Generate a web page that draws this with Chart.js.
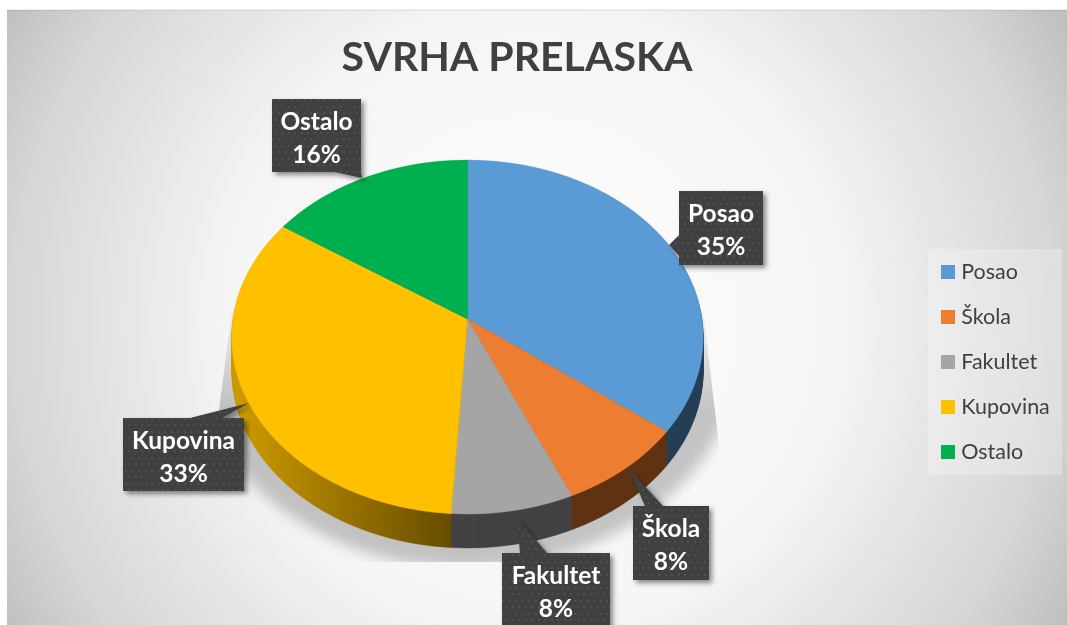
<!DOCTYPE html>
<html>
<head>
<meta charset="utf-8">
<title>Svrha prelaska</title>
<script src="https://cdn.jsdelivr.net/npm/chart.js@4"></script>
<style>
  html, body { margin: 0; background: #fff; }
  canvas { display: block; }
</style>
</head>
<body>
<canvas id="chart" width="1067" height="625"></canvas>
<script>
// Chart data
const chartTitle = 'SVRHA PRELASKA';
const categories = ['Posao', 'Škola', 'Fakultet', 'Kupovina', 'Ostalo'];
const seriesValues = [35.3, 8.1, 7.6, 33.4, 15.6];

const sliceColors = ['#5b9bd5', '#ed7d31', '#a5a5a5', '#ffc000', '#00b050'];

// Perspective of the pie face: apex on screen, height above and below it, half width
const pieView = { cx: 467.5, cy: 319, up: 159, down: 195, halfWidth: 234.5, depth: 34 };

// Callout boxes [left, top, right, bottom] and tail [tipX, tipY, baseX1, baseY1, baseX2, baseY2]
const calloutBoxes = [
    [679, 191, 763, 265],
    [633, 506, 709, 580],
    [502, 553, 610, 630],
    [123, 418, 244, 491],
    [272, 99, 361, 172]
];
const calloutTails = [
    [669, 245, 679, 235, 679, 256],
    [629, 469, 645, 506, 663, 506],
    [517, 518, 520, 553, 547, 553],
    [249, 403, 190, 418, 222, 418],
    [362, 178, 335, 172, 361, 172]
];

const FONT = 'Lato, "Open Sans", sans-serif';

function makeLayer() {
    const c = document.createElement('canvas');
    c.width = 1067;
    c.height = 625;
    return c;
}

// Draws the chart's own arcs row by row so the flat circle comes out as a pie seen in perspective
function drawProjectedArcs(g, chart) {
    const arcs = chart.getDatasetMeta(0).data;
    const R = arcs[0].outerRadius, ax = arcs[0].x, ay = arcs[0].y;
    const { cx, cy, up, down, halfWidth } = pieView;
    const k = (down - up) / (down + up);
    const a = down * (1 - k);
    const toV = (dy) => dy / (a + k * dy);
    for (let y = cy - up - 1; y < cy + down + 1; y++) {
        const v0 = toV(y - cy), v1 = toV(y + 1 - cy);
        const s = halfWidth / (1 - k * (v0 + v1) / 2) / R;
        const t = 1 / ((v1 - v0) * R);
        g.save();
        g.beginPath();
        g.rect(0, y, 1067, 1);
        g.clip();
        g.setTransform(s, 0, 0, t, cx - s * ax, y - t * (ay + v0 * R));
        arcs.forEach((arc) => arc.draw(g));
        g.restore();
    }
}

function dotPattern(ctx) {
    const tile = document.createElement('canvas');
    tile.width = 13;
    tile.height = 13;
    const g = tile.getContext('2d');
    g.fillStyle = '#404040';
    g.fillRect(0, 0, 13, 13);
    g.fillStyle = '#4f4f4f';
    [[2, 2], [8, 2], [5, 8], [11, 8]].forEach(([x, y]) => g.fillRect(x, y, 2, 2));
    return ctx.createPattern(tile, 'repeat');
}

function swatch(color) {
    const c = document.createElement('canvas');
    c.width = 14;
    c.height = 14;
    const g = c.getContext('2d');
    g.fillStyle = color;
    g.fillRect(0, 0, 14, 14);
    return c;
}

const backgroundPlugin = {
    id: 'background',
    beforeDraw(chart) {
        const ctx = chart.ctx;
        ctx.save();
        ctx.fillStyle = '#fff';
        ctx.fillRect(0, 0, 1067, 625);
        const bg = ctx.createRadialGradient(533, 320, 0, 533, 320, 612);
        bg.addColorStop(0, '#ffffff');
        bg.addColorStop(0.5, '#f5f5f5');
        bg.addColorStop(0.86, '#d5d5d5');
        bg.addColorStop(1, '#bfbfbf');
        ctx.fillStyle = bg;
        ctx.fillRect(7, 10, 1060, 615);
        ctx.fillStyle = 'rgba(0,0,0,0.06)';
        ctx.fillRect(7, 9, 1060, 2);
        ctx.fillStyle = 'rgba(255,255,255,0.25)';
        ctx.fillRect(928, 249, 134, 226);
        ctx.restore();
    }
};

const piePlugin = {
    id: 'perspectivePie',
    beforeDatasetsDraw(chart) {
        const ctx = chart.ctx;
        const face = makeLayer();
        drawProjectedArcs(face.getContext('2d'), chart);

        // side wall: the face stacked downwards, then darkened from left to right
        const wall = makeLayer();
        const w = wall.getContext('2d');
        for (let d = pieView.depth; d >= 1; d--) {
            w.drawImage(face, 0, d);
        }
        const shade = w.createLinearGradient(240, 0, 450, 0);
        shade.addColorStop(0, 'rgba(0,0,0,0.2)');
        shade.addColorStop(1, 'rgba(0,0,0,0.6)');
        w.globalCompositeOperation = 'source-atop';
        w.fillStyle = shade;
        w.fillRect(0, 0, 1067, 625);

        // soft shadow, cut off by a wedge and a bottom edge like in the original
        ctx.save();
        ctx.beginPath();
        ctx.moveTo(232, 310);
        ctx.lineTo(703, 310);
        ctx.lineTo(719, 445);
        ctx.lineTo(719, 562);
        ctx.lineTo(219, 562);
        ctx.lineTo(219, 410);
        ctx.closePath();
        ctx.clip();
        ctx.filter = 'blur(7px)';
        const fade = ctx.createLinearGradient(0, 310, 0, 410);
        fade.addColorStop(0, 'rgba(0,0,0,0.03)');
        fade.addColorStop(1, 'rgba(0,0,0,0.21)');
        ctx.fillStyle = fade;
        ctx.beginPath();
        ctx.ellipse(pieView.cx, pieView.cy + 31, 272, 218, 0, 0, Math.PI * 2);
        ctx.fill();
        ctx.restore();

        ctx.drawImage(wall, 0, 0);
        ctx.drawImage(face, 0, 0);
        return false;
    }
};

const calloutPlugin = {
    id: 'callouts',
    afterDraw(chart) {
        const ctx = chart.ctx;
        const pattern = dotPattern(ctx);
        categories.forEach((name, i) => {
            const [l, t, r, b] = calloutBoxes[i];
            const [tx, ty, x1, y1, x2, y2] = calloutTails[i];
            ctx.save();
            ctx.shadowColor = 'rgba(0,0,0,0.45)';
            ctx.shadowBlur = 5;
            ctx.shadowOffsetX = 3;
            ctx.shadowOffsetY = 3;
            ctx.fillStyle = pattern;
            ctx.beginPath();
            ctx.rect(l, t, r - l, b - t);
            ctx.moveTo(x1, y1);
            ctx.lineTo(tx, ty);
            ctx.lineTo(x2, y2);
            ctx.closePath();
            ctx.fill('nonzero');
            ctx.restore();

            ctx.fillStyle = '#fff';
            ctx.font = 'bold 24.5px ' + FONT;
            ctx.textAlign = 'center';
            ctx.textBaseline = 'middle';
            const mid = (l + r) / 2;
            ctx.fillText(name, mid, t + 23);
            ctx.fillText(Math.round(seriesValues[i]) + '%', mid, t + 56);
        });
    }
};

new Chart(document.getElementById('chart'), {
    type: 'pie',
    data: {
        labels: categories,
        datasets: [{
            data: seriesValues,
            backgroundColor: sliceColors,
            borderColor: sliceColors,
            borderWidth: 0.5
        }]
    },
    plugins: [backgroundPlugin, piePlugin, calloutPlugin, {
        id: 'placeBlocks',
        afterLayout(chart) {
            // title and legend sit where the original has them
            const title = chart.titleBlock;
            title.left = 7;
            title.right = 1027;
            title.top = 33;
            const legend = chart.legend;
            legend.left = 945.5 - 23.5;
            legend.top = 261.5 - 23.5;
            legend.right = 1067;
            legend.bottom = 500;
        }
    }],
    options: {
        responsive: false,
        animation: false,
        layout: { padding: { top: 90, bottom: 20, left: 20, right: 20 } },
        plugins: {
            tooltip: { enabled: false },
            title: {
                display: true,
                text: chartTitle,
                color: '#404040',
                padding: 0,
                font: { family: FONT, size: 41, weight: 'bold', lineHeight: 1.2 }
            },
            legend: {
                position: 'right',
                align: 'start',
                labels: {
                    color: '#404040',
                    font: { family: FONT, size: 21.5, lineHeight: 1 },
                    padding: 23.5,
                    boxWidth: 14,
                    boxHeight: 14,
                    usePointStyle: true,
                    pointStyleWidth: 5,
                    generateLabels(chart) {
                        return categories.map((name, i) => ({
                            text: name,
                            fontColor: '#404040',
                            fillStyle: sliceColors[i],
                            strokeStyle: sliceColors[i],
                            lineWidth: 0,
                            pointStyle: swatch(sliceColors[i]),
                            index: i
                        }));
                    }
                }
            }
        }
    }
});
</script>
</body>
</html>
